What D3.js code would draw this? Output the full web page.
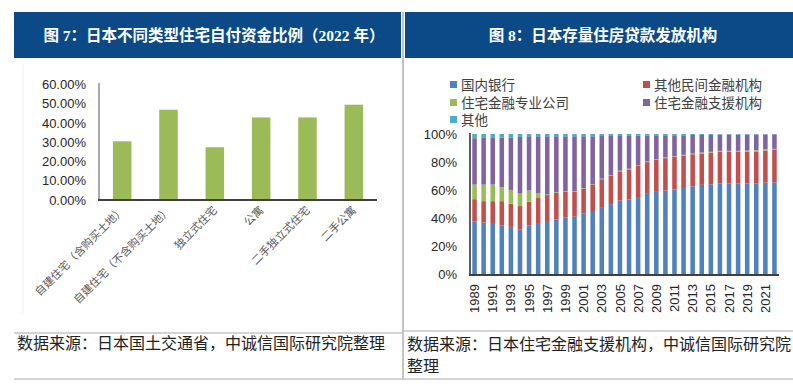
<!DOCTYPE html>
<html>
<head>
<meta charset="utf-8">
<script src="https://cdn.jsdelivr.net/npm/d3@7"></script>
<style>
  html, body { margin: 0; padding: 0; background: #fff; }
  svg { display: block; }
</style>
</head>
<body>
<svg id="chart" width="793" height="386"></svg>
<script>
// ---- left panel: share of self-funded capital (2022)
const houseTypes = ['自建住宅（含购买土地）', '自建住宅（不含购买土地）', '独立式住宅', '公寓', '二手独立式住宅', '二手公寓'];
const selfFundShare = [0.305, 0.469, 0.274, 0.429, 0.429, 0.495];
const leftTicks = [0, 0.1, 0.2, 0.3, 0.4, 0.5, 0.6];

// ---- right panel: outstanding housing loans by lender
const years = [1989, 1990, 1991, 1992, 1993, 1994, 1995, 1996, 1997, 1998, 1999, 2000, 2001,
  2002, 2003, 2004, 2005, 2006, 2007, 2008, 2009, 2010, 2011, 2012, 2013, 2014, 2015,
  2016, 2017, 2018, 2019, 2020, 2021, 2022];
const domesticBanks = [37.6, 36.9, 36.0, 35.0, 33.9, 32.2, 34.8, 36.0, 38.1, 39.1, 40.5, 41.2, 43.3,
  45.2, 48.0, 50.1, 52.7, 53.4, 55.1, 57.4, 58.8, 59.8, 60.5, 61.6, 62.8, 63.8, 64.2,
  64.7, 64.7, 64.7, 64.7, 64.9, 65.4, 65.6];
const otherPrivate = [16.0, 15.3, 16.2, 17.2, 16.5, 16.5, 17.0, 18.4, 18.4, 19.0, 18.3, 17.6, 17.6,
  18.6, 19.8, 20.0, 20.7, 21.4, 22.1, 22.6, 22.8, 23.0, 23.3, 23.1, 22.8, 22.3, 22.6,
  22.8, 22.8, 22.8, 22.8, 22.6, 22.8, 23.1];
const jusenCompanies = [10.4, 11.8, 11.8, 9.9, 9.8, 8.9, 8.0, 3.5, 0.4, 0.5, 0.5, 0.5, 0.5,
  0.4, 0.4, 0.5, 0.5, 0.5, 0.4, 0.5, 0.5, 0.5, 0.4, 0.5, 0.5, 0.7, 0.5,
  0.5, 0.5, 0.5, 0.7, 0.9, 1.0, 0.7];
const jhfAgency = [33.0, 33.2, 33.2, 35.3, 37.4, 40.3, 38.6, 40.5, 41.5, 39.8, 39.1, 39.1, 37.0,
  34.2, 30.4, 28.0, 24.7, 23.3, 21.2, 18.5, 17.0, 15.8, 14.9, 13.9, 13.2, 12.5, 12.0,
  11.5, 11.5, 11.5, 11.3, 11.1, 10.5, 10.3];
const otherLenders = [3.0, 2.8, 2.8, 2.6, 2.4, 2.1, 1.6, 1.6, 1.6, 1.6, 1.6, 1.6, 1.6,
  1.6, 1.4, 1.4, 1.4, 1.4, 1.2, 1.0, 0.9, 0.9, 0.9, 0.9, 0.7, 0.7, 0.7,
  0.5, 0.5, 0.5, 0.5, 0.5, 0.3, 0.3];
const seriesNames = ['国内银行', '其他民间金融机构', '住宅金融专业公司', '住宅金融支援机构', '其他'];
const seriesColors = ['#4F81BD', '#C0504D', '#9BBB59', '#8064A2', '#4BACC6'];
const rightTicks = [0, 0.2, 0.4, 0.6, 0.8, 1.0];

const svg = d3.select('#chart');
const CJK = '"Noto Sans CJK SC", sans-serif';
const SERIF = '"Liberation Serif", "Noto Sans CJK SC", serif';
const SANS = '"Liberation Sans", "Noto Sans CJK SC", sans-serif';
const headerBlue = '#0B4A86';
const ruleGray = '#C4C4C4';

// ---- frame: headers, separator, footers
svg.append('rect').attr('x', 14).attr('y', 12).attr('width', 387).attr('height', 46).attr('fill', headerBlue);
svg.append('rect').attr('x', 405).attr('y', 12).attr('width', 388).attr('height', 46).attr('fill', headerBlue);
svg.append('text').attr('x', 214).attr('y', 41).attr('text-anchor', 'middle')
  .attr('fill', '#fff').attr('font-size', 15.5).attr('font-weight', 'bold').attr('font-family', SERIF)
  .text('图 7：日本不同类型住宅自付资金比例（2022 年）');
svg.append('text').attr('x', 603).attr('y', 41).attr('text-anchor', 'middle')
  .attr('fill', '#fff').attr('font-size', 15.5).attr('font-weight', 'bold').attr('font-family', SERIF)
  .text('图 8：日本存量住房贷款发放机构');

svg.append('line').attr('x1', 403).attr('x2', 403).attr('y1', 12).attr('y2', 380)
  .attr('stroke', ruleGray).attr('stroke-width', 2);
svg.append('line').attr('x1', 23).attr('x2', 23).attr('y1', 64).attr('y2', 313)
  .attr('stroke', '#F0F0F0').attr('stroke-width', 1);

[[14, 402, 333], [14, 402, 379], [404, 793, 331], [404, 793, 379]].forEach(([x1, x2, y]) => {
  svg.append('line').attr('x1', x1).attr('x2', x2).attr('y1', y).attr('y2', y)
    .attr('stroke', ruleGray).attr('stroke-width', 1.5);
});
svg.append('text').attr('x', 17).attr('y', 349).attr('font-size', 16).attr('fill', '#222')
  .attr('font-family', CJK).text('数据来源：日本国土交通省，中诚信国际研究院整理');
svg.append('text').attr('x', 407).attr('y', 350).attr('font-size', 16).attr('fill', '#222')
  .attr('font-family', CJK).text('数据来源：日本住宅金融支援机构，中诚信国际研究院');
svg.append('text').attr('x', 407).attr('y', 372).attr('font-size', 16).attr('fill', '#222')
  .attr('font-family', CJK).text('整理');

// ---- left chart
const xL = d3.scaleBand().domain(houseTypes).range([99, 377]).paddingInner(0.6).paddingOuter(0.3);
const yL = d3.scaleLinear().domain([0, 0.6]).range([200, 84.5]);

svg.append('g').attr('transform', 'translate(87,0)')
  .call(d3.axisLeft(yL).tickValues(leftTicks).tickFormat(d3.format('.2%')).tickSize(0))
  .call(g => g.select('.domain').remove())
  .call(g => g.selectAll('text').attr('font-size', 13).attr('font-family', SANS).attr('fill', '#262626').attr('dx', 2));

svg.append('g').selectAll('rect').data(selfFundShare).join('rect')
  .attr('x', (d, i) => xL(houseTypes[i]))
  .attr('width', xL.bandwidth())
  .attr('y', d => yL(d))
  .attr('height', d => yL(0) - yL(d))
  .attr('fill', '#9BBB59');

svg.append('line').attr('x1', 99).attr('x2', 99).attr('y1', 83).attr('y2', 200)
  .attr('stroke', '#8C8C8C').attr('stroke-width', 1.5);
svg.append('line').attr('x1', 98).attr('x2', 377).attr('y1', 200).attr('y2', 200)
  .attr('stroke', '#404040').attr('stroke-width', 2);

svg.append('g').selectAll('text').data(houseTypes).join('text')
  .attr('transform', d => `translate(${xL(d) + xL.bandwidth() / 2 + 3},${211}) rotate(-45)`)
  .attr('text-anchor', 'end')
  .attr('font-size', 11).attr('font-family', CJK).attr('fill', '#595959')
  .text(d => d);

// ---- right chart
const table = years.map((yr, i) => ({
  year: yr,
  '国内银行': domesticBanks[i] / 100,
  '其他民间金融机构': otherPrivate[i] / 100,
  '住宅金融专业公司': jusenCompanies[i] / 100,
  '住宅金融支援机构': jhfAgency[i] / 100,
  '其他': otherLenders[i] / 100
}));
const stacked = d3.stack().keys(seriesNames)(table);

const xR = d3.scaleBand().domain(years).range([470, 779]).paddingInner(0.5).paddingOuter(0.25);
const yR = d3.scaleLinear().domain([0, 1]).range([274.5, 134]);
const color = d3.scaleOrdinal().domain(seriesNames).range(seriesColors);

svg.append('g').attr('transform', 'translate(458,0)')
  .call(d3.axisLeft(yR).tickValues(rightTicks).tickFormat(d3.format('.0%')).tickSize(0))
  .call(g => g.select('.domain').remove())
  .call(g => g.selectAll('text').attr('font-size', 13).attr('font-family', SANS).attr('fill', '#262626').attr('dx', 2));

svg.append('g').selectAll('g').data(stacked).join('g')
  .attr('fill', d => color(d.key))
  .selectAll('rect').data(d => d).join('rect')
  .attr('x', d => xR(d.data.year))
  .attr('width', xR.bandwidth())
  .attr('y', d => yR(Math.min(1, d[1])))
  .attr('height', d => Math.max(0, yR(d[0]) - yR(Math.min(1, d[1]))));

svg.append('line').attr('x1', 470).attr('x2', 470).attr('y1', 133).attr('y2', 275)
  .attr('stroke', '#262626').attr('stroke-width', 1.5);
svg.append('line').attr('x1', 469).attr('x2', 779).attr('y1', 275).attr('y2', 275)
  .attr('stroke', '#404040').attr('stroke-width', 2);

svg.append('g').attr('transform', 'translate(0,276)')
  .call(d3.axisBottom(xR).tickValues(years.filter((y, i) => i % 2 === 0)).tickSize(0))
  .call(g => g.select('.domain').remove())
  .call(g => g.selectAll('text')
    .attr('font-size', 13).attr('font-family', SANS).attr('fill', '#262626')
    .attr('transform', 'rotate(-90)').attr('text-anchor', 'end')
    .attr('x', -8).attr('y', 0).attr('dy', '0.35em'));

// legend
const legendPos = [[450, 85], [643, 85], [450, 103], [643, 103], [450, 120]];
const legend = svg.append('g').selectAll('g').data(seriesNames).join('g')
  .attr('transform', (d, i) => `translate(${legendPos[i][0]},${legendPos[i][1]})`);
legend.append('rect').attr('x', 0).attr('y', -4).attr('width', 7).attr('height', 7)
  .attr('fill', d => color(d));
legend.append('text').attr('x', 11).attr('y', 4.5).attr('font-size', 13.5)
  .attr('font-family', CJK).attr('fill', '#404040').text(d => d);
</script>
</body>
</html>
